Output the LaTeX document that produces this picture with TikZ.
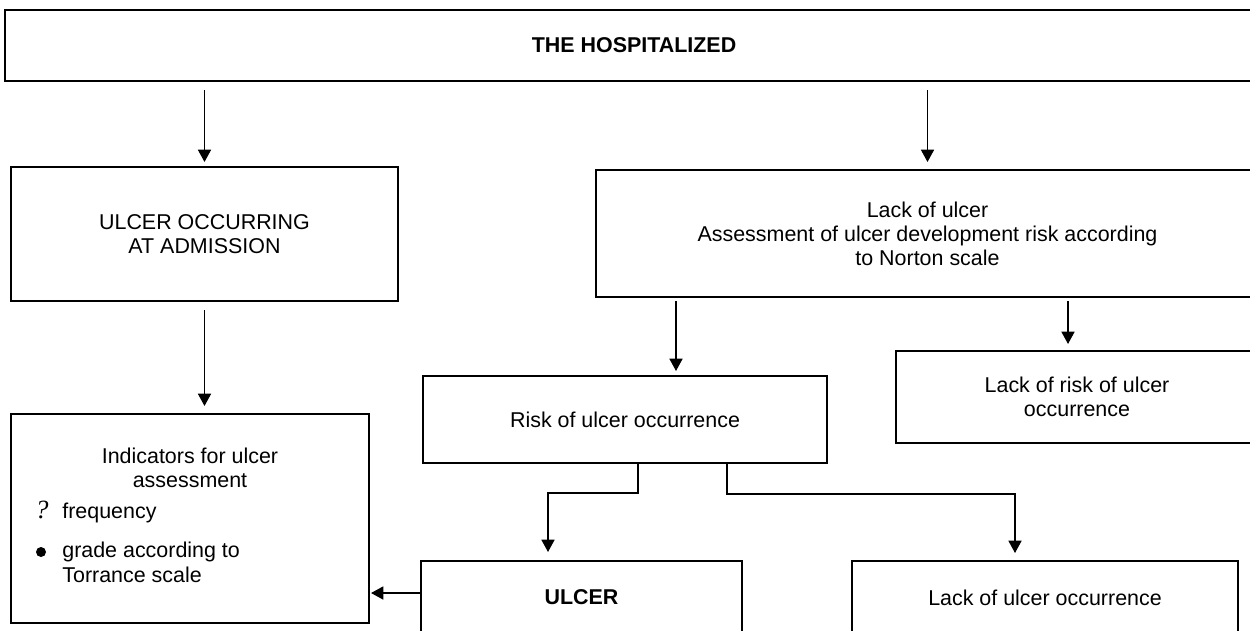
\documentclass[tikz,border=0pt]{standalone}
\usepackage{fontspec}
\setmainfont{Liberation Sans}
\newfontfamily\qfont{Liberation Serif}
\usetikzlibrary{arrows.meta,calc}
\def\P{0.02cm}
\begin{document}
\begin{tikzpicture}[x=0.02cm,y=-0.02cm,
  box/.style={draw, line width=1.2pt, inner sep=0pt, align=center, font=\fontsize{12.2pt}{13.7pt}\selectfont},
  arr/.style={line width=0.6pt, -{Triangle[length=7pt,width=7.5pt]}},
  lbl/.style={inner sep=0pt, font=\fontsize{12.2pt}{13.7pt}\selectfont}]
\useasboundingbox (0,0) rectangle (1250,630);
\fill[white] (0,0) rectangle (1250,630);
\clip (0,0) rectangle (1250,630);

\node[box, minimum width=1258*\P, minimum height=71*\P, font=\bfseries\fontsize{12.2pt}{13.7pt}\selectfont] (top) at (634,45.5) {THE HOSPITALIZED};
\node[box, minimum width=387*\P, minimum height=134*\P] (adm) at (204.5,234) {ULCER OCCURRING\\AT ADMISSION};
\node[box, minimum width=663*\P, minimum height=127*\P] (lack) at (927.5,233.5) {Lack of ulcer\\Assessment of ulcer development risk according\\to Norton scale};
\node[box, minimum width=404*\P, minimum height=87*\P] (risk) at (625,419.5) {Risk of ulcer occurrence};
\node[box, minimum width=362*\P, minimum height=92*\P] (norisk) at (1077,397) {Lack of risk of ulcer\\occurrence};
\node[box, minimum width=358*\P, minimum height=209*\P] (ind) at (190,518.5) {};
\node[box, minimum width=321*\P, minimum height=73*\P, font=\bfseries\fontsize{12.2pt}{13.7pt}\selectfont] (ulcer) at (581.5,597.5) {ULCER};
\node[box, minimum width=386*\P, minimum height=73*\P] (noulc) at (1045,597.5) {Lack of ulcer occurrence};

% contents of indicator box
\node[lbl, anchor=base] (ind1) at (190,463) {Indicators for ulcer};
\node[lbl, anchor=base] (ind2) at (190,487) {assessment};
\node[lbl, anchor=base west, font=\qfont\itshape\fontsize{15pt}{15pt}\selectfont] (q) at (35,518) {?};
\node[lbl, anchor=base west] (freq) at (62,518) {frequency};
\node[circle, fill, inner sep=0pt, minimum size=10*\P] (bul) at (41,552) {};
\node[lbl, anchor=base west] (grade) at (62,557) {grade according to};
\node[lbl, anchor=base west] (torr) at (62,582) {Torrance scale};

% connectors
\draw[arr, shorten <=8*\P, shorten >=4*\P] (top.south -| adm.north) -- (adm.north);
\draw[arr, shorten <=8*\P, shorten >=7*\P] (top.south -| lack.north) -- (lack.north);
\draw[arr, shorten <=8*\P, shorten >=7*\P] (adm.south) -- (adm.south |- ind.north);
\coordinate (c1) at (676,0);
\coordinate (c2) at (1068,0);
\draw[arr, shorten <=3*\P, shorten >=4*\P] (lack.south -| c1) -- (risk.north -| c1);
\draw[arr, shorten <=3*\P, shorten >=6*\P] (lack.south -| c2) -- (norisk.north -| c2);
\coordinate (d1) at (638,493);
\coordinate (d2) at (548,0);
\draw[arr, shorten >=8*\P] (risk.south -| d1) -- (d1) -- (d1 -| d2) -- (ulcer.north -| d2);
\coordinate (d3) at (727,494);
\coordinate (d4) at (1015,0);
\draw[arr, shorten >=7*\P] (risk.south -| d3) -- (d3) -- (d3 -| d4) -- (noulc.north -| d4);
\coordinate (e) at (0,593);
\draw[arr, shorten >=1*\P] (ulcer.west |- e) -- (ind.east |- e);
\end{tikzpicture}
\end{document}
